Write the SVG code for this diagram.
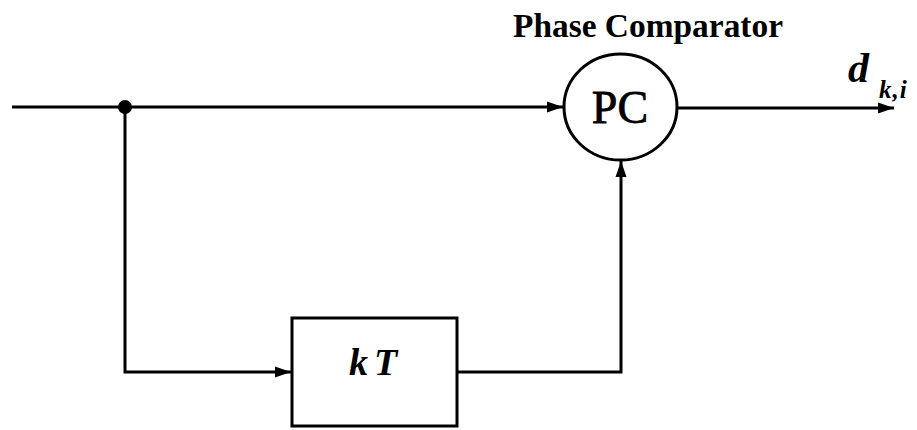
<svg xmlns="http://www.w3.org/2000/svg" width="917" height="430" viewBox="0 0 917 430">
  <style>
    .ln { fill: none; stroke: #000; stroke-width: 3; }
    .shape { fill: #fff; stroke: #000; stroke-width: 3; }
    .serif { font-family: "Liberation Serif", "Times New Roman", serif; fill: #000; }
  </style>
  <defs>
    <marker id="arr" markerUnits="userSpaceOnUse" markerWidth="17" markerHeight="13" refX="16" refY="6.5" orient="auto">
      <path d="M0,1 L16,6.5 L0,12 Z" fill="#000"/>
    </marker>
  </defs>
  <rect width="917" height="430" fill="#fff"/>
  <g id="connectors">
    <path class="ln" d="M12,107 L563,107" marker-end="url(#arr)"/>
    <path class="ln" d="M125,107 L125,372 L291,372" marker-end="url(#arr)"/>
    <path class="ln" d="M457,372 L621,372 L621,161" marker-end="url(#arr)"/>
    <path class="ln" d="M677,108 L894,108" marker-end="url(#arr)"/>
    <circle cx="125" cy="107" r="7" fill="#000"/>
  </g>
  <g id="pc">
    <ellipse class="shape" cx="620.5" cy="107" rx="56.5" ry="53"/>
    <text class="serif" x="620" y="123" font-size="46" text-anchor="middle" stroke="#000" stroke-width="0.8">PC</text>
    <text class="serif" x="513" y="37" font-size="34" font-weight="bold" textLength="270" lengthAdjust="spacingAndGlyphs">Phase Comparator</text>
  </g>
  <g id="delay">
    <rect class="shape" x="292" y="318" width="165" height="108"/>
    <text class="serif" x="373" y="375" font-size="38" font-weight="bold" font-style="italic" text-anchor="middle">k<tspan dx="6">T</tspan></text>
  </g>
  <g id="output-label">
    <text class="serif" x="848" y="82" font-size="42" font-weight="bold" font-style="italic">d</text>
    <text class="serif" x="879" y="98" font-size="25" font-weight="bold" font-style="italic" letter-spacing="1">k,i</text>
  </g>
</svg>
